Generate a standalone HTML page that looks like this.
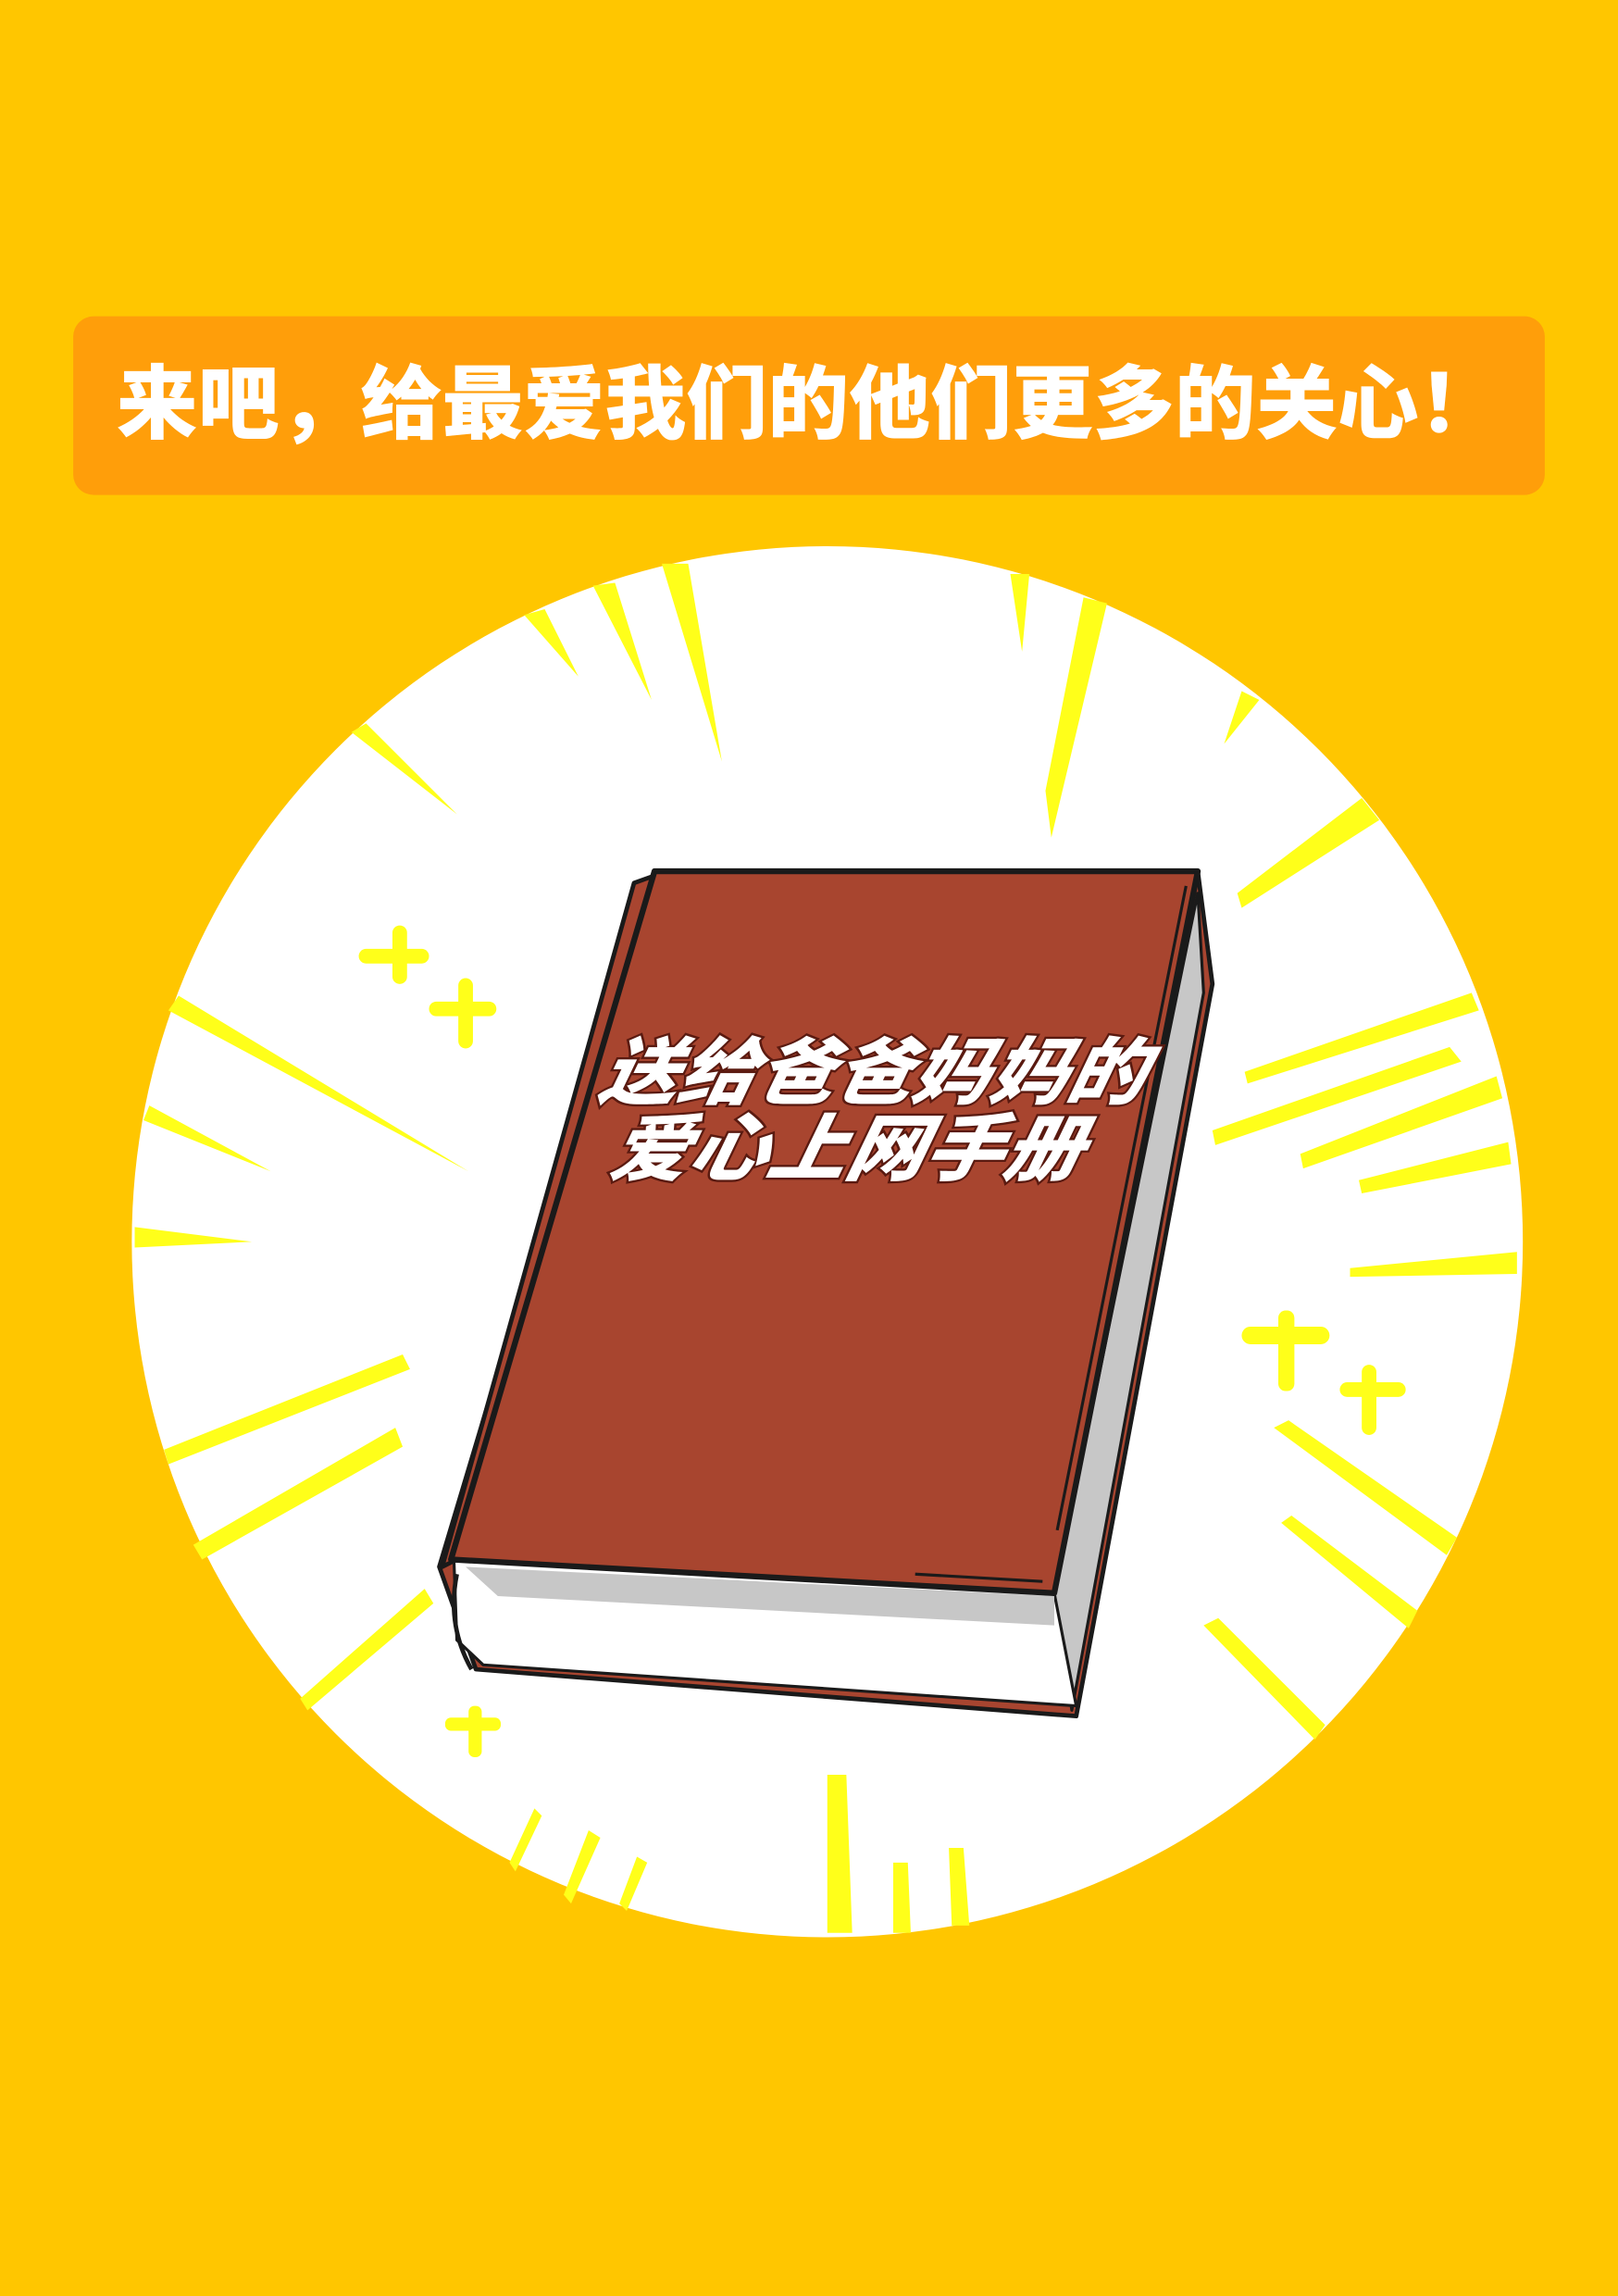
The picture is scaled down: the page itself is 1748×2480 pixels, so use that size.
<!DOCTYPE html>
<html><head><meta charset="utf-8">
<style>
html,body{margin:0;padding:0;background:#FFC600;}
svg{display:block;}
</style></head>
<body>
<svg width="1748" height="2480" viewBox="0 0 1105 1568" preserveAspectRatio="none" xmlns="http://www.w3.org/2000/svg">
  <rect x="0" y="0" width="1105" height="1568" fill="#FFC600"/>
  <g>
    <rect x="50" y="216" width="1005" height="122" rx="14" fill="#FF9E0A"/>
    <text x="552" y="295" text-anchor="middle" font-family="'Liberation Sans','Noto Sans CJK SC',sans-serif" font-weight="900" font-size="55" fill="#ffffff" textLength="945" lengthAdjust="spacingAndGlyphs">来吧，给最爱我们的他们更多的关心！</text>
  </g>
  <circle cx="565" cy="848" r="475" fill="#ffffff"/>
  <g fill="#FFFF1A">
    <polygon points="452,385 470,385 493,520"/>
    <polygon points="405,400 420,398 445,478"/>
    <polygon points="358,420 372,416 395,462"/>
    <polygon points="690,392 703,392 698,445"/>
    <polygon points="740,408 756,412 718,572 714,540"/>
    <polygon points="848,472 860,478 836,508"/>
    <polygon points="240,500 250,494 312,556"/>
    <polygon points="930,545 942,560 848,620 845,610"/>
    <polygon points="115,690 122,680 320,800"/>
    <polygon points="98,765 102,755 185,800"/>
    <polygon points="92,838 92,852 172,848"/>
    <polygon points="1005,678 1010,690 852,740 850,732"/>
    <polygon points="990,715 998,725 830,782 828,772"/>
    <polygon points="1022,735 1026,750 890,798 888,788"/>
    <polygon points="1030,780 1032,795 930,815 928,806"/>
    <polygon points="1036,855 1036,870 922,872 922,866"/>
    <polygon points="275,925 280,935 115,1000 112,990"/>
    <polygon points="270,975 275,988 138,1065 132,1055"/>
    <polygon points="290,1085 296,1095 210,1168 205,1160"/>
    <polygon points="870,975 880,970 995,1050 988,1062"/>
    <polygon points="875,1040 882,1035 968,1100 962,1112"/>
    <polygon points="822,1110 832,1105 905,1178 898,1188"/>
    <polygon points="365,1235 370,1240 352,1278 348,1272"/>
    <polygon points="402,1250 410,1255 390,1300 385,1294"/>
    <polygon points="435,1268 442,1272 428,1305 423,1300"/>
    <polygon points="565,1212 578,1212 582,1320 565,1320"/>
    <polygon points="610,1272 620,1272 622,1320 610,1320"/>
    <polygon points="648,1262 658,1262 662,1315 650,1315"/>
  </g>
  <g fill="#FFFF1A">
    <rect x="268" y="632" width="10" height="40" rx="5"/><rect x="245" y="648" width="48" height="10" rx="5"/>
    <rect x="313" y="668" width="10" height="48" rx="5"/><rect x="293" y="684" width="46" height="10" rx="5"/>
    <rect x="873" y="895" width="11" height="55" rx="5"/><rect x="848" y="906" width="60" height="12" rx="6"/>
    <rect x="930" y="932" width="10" height="48" rx="5"/><rect x="915" y="944" width="45" height="10" rx="5"/>
    <rect x="320" y="1165" width="9" height="35" rx="4"/><rect x="304" y="1173" width="38" height="9" rx="4"/>
  </g>
  <g stroke="#1a1a1a" stroke-linejoin="round">
    <polygon points="818,595 828,672 735,1172 325,1140 300,1070 440,603" fill="#A84530" stroke-width="3"/>
    <polygon points="818,610 822,678 732,1168 722,1100 720,1088" fill="#C7C7C7" stroke-width="2"/>
    <polygon points="310,1065 720,1088 735,1165 330,1137 312,1120" fill="#ffffff" stroke-width="2"/>
    <polygon points="318,1070 720,1090 720,1110 340,1090" fill="#C7C7C7" stroke="none"/>
    <polygon points="433,603 447,598 312,1065 302,1070" fill="#A84530" stroke-width="3"/>
    <polygon points="447,595 818,595 720,1088 308,1065" fill="#A8452F" stroke-width="4"/>
    <line x1="810" y1="605" x2="722" y2="1045" stroke-width="2"/>
    <line x1="625" y1="1075" x2="712" y2="1080" stroke-width="2"/>
    <path d="M312,1075 Q305,1110 322,1140" fill="none" stroke-width="3"/>
  </g>
  <g font-family="'Liberation Sans','Noto Sans CJK SC',sans-serif" font-weight="900" font-style="italic" fill="#ffffff" stroke="#5a1a10" stroke-width="3" paint-order="stroke">
    <text x="595" y="750" text-anchor="middle" font-size="50" textLength="372" lengthAdjust="spacingAndGlyphs" transform="skewX(-12) translate(158,0)">送给爸爸妈妈的</text>
    <text x="578" y="802" text-anchor="middle" font-size="50" textLength="322" lengthAdjust="spacingAndGlyphs" transform="skewX(-12) translate(168,0)">爱心上网手册</text>
  </g>
</svg>
</body></html>
